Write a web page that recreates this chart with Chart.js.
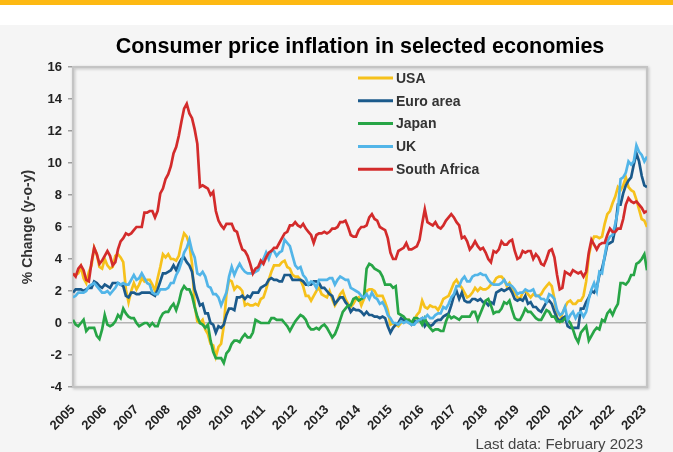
<!DOCTYPE html>
<html>
<head>
<meta charset="utf-8">
<script src="https://cdn.jsdelivr.net/npm/chart.js@4.4.0/dist/chart.umd.min.js"></script>
<style>
  body { margin: 0; background: #fff; font-family: 'Liberation Sans', Arial, sans-serif; }
  #faixa { height: 5px; background: #fdb913; }
  #espaco { height: 20px; background: #fff; }
  #grafico { position: relative; width: 673px; height: 427px; background: #f5f5f5; }
</style>
</head>
<body>
<div id="faixa"></div>
<div id="espaco"></div>
<div id="grafico"><canvas id="myChart"></canvas></div>
<script>
// monthly y-o-y inflation, Jan 2005 .. Feb 2023
const startYear = 2005;
const yearTicks = [2005, 2006, 2007, 2008, 2009, 2010, 2011, 2012, 2013, 2014, 2015, 2016, 2017, 2018, 2019, 2020, 2021, 2022, 2023];
const seriesNames = ['USA', 'Euro area', 'Japan', 'UK', 'South Africa'];

const usa = [
  3.0,3.0,3.1,3.5,2.8,2.5,3.2,3.6,4.7,4.3,3.5,3.4,
  4.0,3.6,3.4,3.5,4.2,4.3,4.1,3.8,2.1,1.3,2.0,2.5,
  2.1,2.4,2.8,2.6,2.7,2.7,2.4,2.0,2.8,3.5,4.3,4.1,
  4.3,4.0,4.0,3.9,4.2,5.0,5.6,5.4,4.9,3.7,1.1,0.1,
  0.0,0.2,-0.4,-0.7,-1.3,-1.4,-2.1,-1.5,-1.3,-0.2,1.8,2.7,
  2.6,2.1,2.3,2.2,2.0,1.1,1.2,1.1,1.1,1.2,1.1,1.5,
  1.6,2.1,2.7,3.2,3.6,3.6,3.6,3.8,3.9,3.5,3.4,3.0,
  2.9,2.9,2.7,2.3,1.7,1.7,1.4,1.7,2.0,2.2,1.8,1.7,
  1.6,2.0,1.5,1.1,1.4,1.8,2.0,1.5,1.2,1.0,1.2,1.5,
  1.6,1.1,1.5,2.0,2.1,2.1,2.0,1.7,1.7,1.7,1.3,0.8,
  -0.1,0.0,-0.1,-0.2,0.0,0.1,0.2,0.2,0.0,0.2,0.5,0.7,
  1.4,1.0,0.9,1.1,1.0,1.0,0.8,1.1,1.5,1.6,1.7,2.1,
  2.5,2.7,2.4,2.2,1.9,1.6,1.7,1.9,2.2,2.0,2.2,2.1,
  2.1,2.2,2.4,2.5,2.8,2.9,2.9,2.7,2.3,2.5,2.2,1.9,
  1.6,1.5,1.9,2.0,1.8,1.6,1.8,1.7,1.7,1.8,2.1,2.3,
  2.5,2.3,1.5,0.3,0.1,0.6,1.0,1.3,1.4,1.2,1.2,1.4,
  1.4,1.7,2.6,4.2,5.0,5.4,5.4,5.3,5.4,6.2,6.8,7.0,
  7.5,7.9,8.5,8.3,8.6,9.1,8.5,8.3,8.2,7.7,7.1,6.5,
  6.4,6.0
];

const euroArea = [
  1.9,2.1,2.1,2.1,2.0,2.1,2.2,2.2,2.6,2.5,2.3,2.2,
  2.4,2.3,2.2,2.5,2.5,2.5,2.4,2.3,1.7,1.6,1.9,1.9,
  1.8,1.8,1.9,1.9,1.9,1.9,1.8,1.7,2.1,2.6,3.1,3.1,
  3.2,3.3,3.6,3.3,3.7,4.0,4.1,3.8,3.6,3.2,2.1,1.6,
  1.1,1.2,0.6,0.6,0.0,-0.1,-0.6,-0.2,-0.3,-0.1,0.5,0.9,
  0.9,0.8,1.6,1.6,1.7,1.5,1.7,1.6,1.9,1.9,1.9,2.2,
  2.3,2.4,2.7,2.8,2.7,2.7,2.6,2.6,3.0,3.0,3.0,2.7,
  2.7,2.7,2.7,2.6,2.4,2.4,2.4,2.6,2.6,2.5,2.2,2.2,
  2.0,1.8,1.7,1.2,1.4,1.6,1.6,1.3,1.1,0.7,0.9,0.8,
  0.8,0.7,0.5,0.7,0.5,0.5,0.4,0.4,0.3,0.4,0.3,-0.2,
  -0.6,-0.3,-0.1,0.0,0.3,0.2,0.2,0.1,-0.1,0.1,0.1,0.2,
  0.3,-0.2,0.0,-0.2,-0.1,0.1,0.2,0.2,0.4,0.5,0.6,1.1,
  1.7,2.0,1.5,1.9,1.4,1.3,1.3,1.5,1.5,1.4,1.5,1.3,
  1.3,1.1,1.3,1.2,1.9,2.0,2.1,2.0,2.1,2.2,1.9,1.5,
  1.4,1.5,1.4,1.7,1.2,1.3,1.0,1.0,0.8,0.7,1.0,1.3,
  1.4,1.2,0.7,0.3,0.1,0.3,0.4,-0.2,-0.3,-0.3,-0.3,-0.3,
  0.9,0.9,1.3,1.6,2.0,1.9,2.2,3.0,3.4,4.1,4.9,5.0,
  5.1,5.9,7.4,7.4,8.1,8.6,8.9,9.1,9.9,10.6,10.1,9.2,
  8.6,8.5
];

const japan = [
  0.2,-0.1,-0.2,0.0,0.2,-0.5,-0.3,-0.3,-0.3,-0.8,-1.0,-0.4,
  0.5,-0.1,-0.2,-0.1,0.1,0.5,0.3,0.9,0.6,0.4,0.3,0.3,
  0.0,-0.2,-0.1,0.0,0.0,-0.2,0.0,-0.2,-0.2,0.3,0.6,0.7,
  0.7,1.0,1.2,0.8,1.3,2.0,2.3,2.1,2.1,1.7,1.0,0.4,
  0.0,-0.1,-0.3,-0.1,-1.1,-1.8,-2.2,-2.2,-2.2,-2.5,-1.9,-1.7,
  -1.3,-1.1,-1.1,-1.2,-0.9,-0.7,-0.9,-0.9,-0.6,0.2,0.1,0.0,
  0.0,0.0,0.0,0.3,0.3,0.2,0.2,0.2,0.0,-0.2,-0.5,-0.2,
  0.1,0.3,0.5,0.4,0.2,-0.2,-0.4,-0.4,-0.3,-0.4,-0.2,-0.1,
  -0.3,-0.6,-0.9,-0.7,-0.3,0.2,0.7,0.9,1.1,1.1,1.5,1.6,
  1.4,1.5,1.6,3.4,3.7,3.6,3.4,3.3,3.2,2.9,2.4,2.4,
  2.4,2.2,2.3,0.6,0.5,0.4,0.2,0.2,0.0,0.3,0.3,0.2,
  -0.1,0.3,-0.1,-0.3,-0.5,-0.4,-0.4,-0.5,-0.5,0.1,0.5,0.3,
  0.4,0.3,0.2,0.4,0.4,0.4,0.4,0.7,0.7,0.2,0.6,1.0,
  1.4,1.5,1.1,0.6,0.7,0.7,0.9,1.3,1.2,1.4,0.8,0.3,
  0.2,0.2,0.5,0.9,0.7,0.7,0.5,0.3,0.2,0.2,0.5,0.8,
  0.7,0.4,0.4,0.1,0.1,0.1,0.3,0.2,0.0,-0.4,-0.9,-1.2,
  -0.6,-0.4,-0.2,-1.1,-0.8,-0.5,-0.3,-0.4,0.2,0.1,0.6,0.8,
  0.5,0.9,1.2,2.5,2.5,2.4,2.6,3.0,3.0,3.7,3.8,4.0,
  4.3,3.3
];

const uk = [
  1.6,1.7,1.9,1.9,1.9,2.0,2.3,2.4,2.5,2.3,2.1,1.9,
  1.9,2.0,1.8,2.0,2.2,2.5,2.4,2.5,2.4,2.4,2.7,3.0,
  2.7,2.8,3.1,2.8,2.5,2.4,1.9,1.8,1.8,2.1,2.1,2.1,
  2.2,2.5,2.5,3.0,3.3,3.8,4.4,4.7,5.2,4.5,4.1,3.1,
  3.0,3.2,2.9,2.3,2.2,1.8,1.8,1.6,1.1,1.5,1.9,2.9,
  3.5,3.0,3.4,3.7,3.4,3.2,3.1,3.1,3.1,3.2,3.3,3.7,
  4.0,4.4,4.0,4.5,4.5,4.2,4.4,4.5,5.2,5.0,4.8,4.2,
  3.6,3.4,3.5,3.0,2.8,2.4,2.6,2.5,2.2,2.7,2.7,2.7,
  2.7,2.8,2.8,2.4,2.7,2.9,2.8,2.7,2.7,2.2,2.1,2.0,
  1.9,1.7,1.6,1.8,1.5,1.9,1.6,1.5,1.2,1.3,1.0,0.5,
  0.3,0.0,0.0,-0.1,0.1,0.0,0.1,0.0,-0.1,-0.1,0.1,0.2,
  0.3,0.3,0.5,0.3,0.3,0.5,0.6,0.6,1.0,0.9,1.2,1.6,
  1.8,2.3,2.3,2.7,2.9,2.6,2.6,2.9,3.0,3.0,3.1,3.0,
  3.0,2.7,2.5,2.4,2.4,2.4,2.5,2.7,2.4,2.4,2.3,2.1,
  1.8,1.9,1.9,2.1,2.0,2.0,2.1,1.7,1.7,1.5,1.5,1.3,
  1.8,1.7,1.5,0.8,0.5,0.6,1.0,0.2,0.5,0.7,0.3,0.6,
  0.7,0.4,0.7,1.5,2.1,2.5,2.0,3.2,3.1,4.2,5.1,5.4,
  5.5,6.2,7.0,9.0,9.1,9.4,10.1,9.9,10.1,11.1,10.7,10.5,
  10.1,10.4
];

const southAfrica = [
  3.1,2.9,3.4,3.6,3.3,2.7,2.6,3.8,4.7,4.3,3.7,3.9,
  4.2,4.5,4.2,3.6,3.8,4.6,5.1,5.3,5.6,5.5,5.6,5.8,
  6.0,6.0,6.0,6.9,6.9,7.0,7.0,6.6,7.0,8.1,8.4,9.0,
  9.3,9.8,10.6,11.0,11.7,12.6,13.4,13.7,13.1,12.8,12.1,11.2,
  8.5,8.6,8.5,8.4,8.0,8.2,7.0,6.4,6.1,5.9,6.2,6.2,
  6.2,5.8,5.7,5.1,4.6,4.5,4.2,3.7,3.1,3.4,3.5,3.9,
  3.7,4.1,4.4,4.5,4.7,4.7,5.0,5.3,5.6,5.7,6.1,6.1,
  6.3,6.1,6.0,6.2,5.9,5.7,5.5,5.0,5.5,5.6,5.6,5.7,
  5.6,5.7,5.9,5.9,6.0,6.3,6.3,6.4,6.0,5.5,5.4,5.4,
  5.8,6.0,6.0,6.1,6.6,6.8,6.5,6.4,6.0,5.9,5.8,5.3,
  4.4,4.0,4.0,4.5,4.6,4.7,5.0,4.6,4.6,4.7,4.8,5.2,
  6.2,7.1,6.3,6.2,6.1,6.3,6.0,5.9,6.1,6.4,6.6,6.8,
  6.6,6.3,6.1,5.3,5.4,5.1,4.6,4.8,5.1,4.8,4.6,4.7,
  4.4,4.0,3.8,4.5,4.4,4.6,5.1,4.9,4.9,5.1,5.2,4.5,
  4.0,4.1,4.5,4.4,4.5,4.5,4.0,4.3,4.1,3.7,3.6,4.0,
  4.5,4.6,4.1,3.0,2.1,2.2,3.2,3.1,3.0,3.3,3.2,3.1,
  3.2,2.9,3.2,4.4,5.2,4.9,4.6,4.9,5.0,5.0,5.5,5.9,
  5.7,5.7,5.9,5.9,6.5,7.4,7.8,7.6,7.5,7.6,7.4,7.2,
  6.9,7.0
];

const cores = ['#f6c11b', '#1b5a8b', '#27a546', '#52b5e8', '#d32b2b'];
const ordem = [5, 4, 3, 2, 1]; // South Africa on top

function paraPontos(valores) {
  return valores.map((v, i) => ({ x: startYear + i / 12, y: v }));
}

// title, frame, legend and footnote drawn on the canvas
const extras = {
  id: 'extras',
  beforeDatasetsDraw(chart) {
    const { ctx, chartArea: a } = chart;
    ctx.save();
    ctx.shadowColor = 'rgba(0,0,0,0.25)';
    ctx.shadowBlur = 3;
    ctx.shadowOffsetX = 1;
    ctx.shadowOffsetY = 1;
    ctx.strokeStyle = '#c4c4c4';
    ctx.lineWidth = 2;
    ctx.strokeRect(a.left, a.top, a.right - a.left, a.bottom - a.top);
    ctx.restore();
  },
  afterDatasetsDraw(chart) {
    const { ctx, chartArea: a } = chart;
    ctx.save();
    // title
    ctx.fillStyle = '#000';
    ctx.font = 'bold 21.5px "Liberation Sans", Arial, sans-serif';
    ctx.textAlign = 'center';
    ctx.textBaseline = 'middle';
    ctx.fillText('Consumer price inflation in selected economies', (a.left + a.right) / 2, 22);
    // legend
    ctx.font = 'bold 14px "Liberation Sans", Arial, sans-serif';
    ctx.textAlign = 'left';
    chart.data.datasets.forEach((ds, i) => {
      const y = 53 + i * 22.8;
      ctx.strokeStyle = ds.borderColor;
      ctx.lineWidth = 3;
      ctx.beginPath();
      ctx.moveTo(358, y);
      ctx.lineTo(393, y);
      ctx.stroke();
      ctx.fillStyle = '#333';
      ctx.fillText(ds.label, 396, y + 1);
    });
    // footnote
    ctx.font = '15px "Liberation Sans", Arial, sans-serif';
    ctx.fillStyle = '#444';
    ctx.textAlign = 'right';
    ctx.textBaseline = 'alphabetic';
    ctx.fillText('Last data: February 2023', 643, 424);
    ctx.restore();
  },
};

function criarGrafico() {
  const valores = [usa, euroArea, japan, uk, southAfrica];
  const ctx = document.getElementById('myChart').getContext('2d');
  new Chart(ctx, {
    type: 'line',
    data: {
      datasets: seriesNames.map((nome, i) => ({
        label: nome,
        data: paraPontos(valores[i]),
        borderColor: cores[i],
        borderWidth: 2.7,
        pointRadius: 0,
        tension: 0,
        order: ordem[i],
      })),
    },
    options: {
      responsive: true,
      maintainAspectRatio: false,
      animation: false,
      layout: { padding: { top: 42, right: 26, left: 0, bottom: 0 } },
      plugins: {
        legend: { display: false },
        title: { display: false },
        tooltip: { enabled: false },
      },
      scales: {
        x: {
          type: 'linear',
          min: startYear,
          max: startYear + (usa.length - 1) / 12,
          afterBuildTicks: (axis) => {
            axis.ticks = yearTicks.map((v) => ({ value: v }));
          },
          afterFit: (axis) => {
            axis.height = 65;
          },
          grid: { display: false },
          border: { display: false },
          ticks: {
            autoSkip: false,
            minRotation: 45,
            maxRotation: 45,
            padding: 7,
            color: '#222',
            font: { family: '"Liberation Sans", Arial, sans-serif', size: 13, weight: 'bold' },
            callback: (v) => String(v),
          },
        },
        y: {
          min: -4,
          max: 16,
          afterFit: (axis) => {
            axis.width = 73;
          },
          border: { display: false },
          grid: {
            drawOnChartArea: true,
            tickLength: 5,
            tickColor: '#a0a0a0',
            lineWidth: 1.5,
            color: (c) => (c.tick && c.tick.value === 0 ? '#b4b4b4' : 'transparent'),
          },
          ticks: {
            stepSize: 2,
            padding: 6,
            color: '#222',
            font: { family: '"Liberation Sans", Arial, sans-serif', size: 13, weight: 'bold' },
          },
          title: {
            display: true,
            text: '% Change (y-o-y)',
            color: '#333',
            padding: { top: 20, bottom: 0 },
            font: { family: '"Liberation Sans", Arial, sans-serif', size: 14, weight: 'bold' },
          },
        },
      },
    },
    plugins: [extras],
  });
}

criarGrafico();
</script>
</body>
</html>
